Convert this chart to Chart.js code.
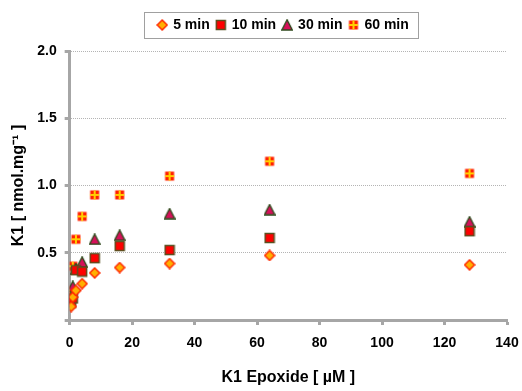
<!DOCTYPE html>
<html>
<head>
<meta charset="utf-8">
<script src="https://cdn.jsdelivr.net/npm/chart.js@4.4.1/dist/chart.umd.min.js"></script>
<style>
  html, body { margin: 0; padding: 0; background: #fff; }
  #wrap { width: 522px; height: 391px; }
</style>
</head>
<body>
<div id="wrap"><canvas id="k1Chart" width="522" height="391"></canvas></div>
<script>
// K1 epoxide concentration (µM)
const concentrations = [0.5, 1, 2, 4, 8, 16, 32, 64, 128];

// K1 formed (nmol/mg) after each incubation time
const k1At5min  = [0.10, 0.17, 0.22, 0.27, 0.35, 0.39, 0.42, 0.48, 0.41];
const k1At10min = [0.13, 0.16, 0.37, 0.36, 0.46, 0.55, 0.52, 0.61, 0.66];
const k1At30min = [0.17, 0.25, 0.38, 0.43, 0.60, 0.63, 0.79, 0.82, 0.73];
const k1At60min = [0.22, 0.40, 0.60, 0.77, 0.93, 0.93, 1.07, 1.18, 1.09];

const seriesLabels = ['5 min', '10 min', '30 min', '60 min'];
const yTicks = [0, 0.5, 1.0, 1.5, 2.0];
const xTicks = [0, 20, 40, 60, 80, 100, 120, 140];

// small canvases used as point styles
function makeMarker(kind) {
  const c = document.createElement('canvas');
  c.width = 12; c.height = 12;
  const g = c.getContext('2d');
  if (kind === 'diamond') {
    g.beginPath();
    g.moveTo(6, 1); g.lineTo(11, 6); g.lineTo(6, 11); g.lineTo(1, 6); g.closePath();
    g.fillStyle = '#ffb000';
    g.fill();
    g.lineWidth = 1.5;
    g.strokeStyle = '#ff2a00';
    g.stroke();
  } else if (kind === 'square') {
    g.fillStyle = '#ff0000';
    g.fillRect(1.5, 1.5, 9, 9);
    g.lineWidth = 1.5;
    g.strokeStyle = '#5a5020';
    g.strokeRect(1.5, 1.5, 9, 9);
  } else if (kind === 'triangle') {
    g.beginPath();
    g.moveTo(6, 0.8); g.lineTo(11.2, 11); g.lineTo(0.8, 11); g.closePath();
    g.fillStyle = '#d6105a';
    g.fill();
    g.lineWidth = 1.4;
    g.strokeStyle = '#2f4a1c';
    g.stroke();
  } else {
    // red square with a yellow cross
    g.fillStyle = '#ff2200';
    g.fillRect(1.5, 1.5, 9, 9);
    g.fillStyle = '#ffd000';
    g.fillRect(5, 1.5, 2, 9);
    g.fillRect(1.5, 5, 9, 2);
  }
  return c;
}

const markers = [makeMarker('diamond'), makeMarker('square'), makeMarker('triangle'), makeMarker('cross')];
const seriesValues = [k1At5min, k1At10min, k1At30min, k1At60min];

const datasets = seriesLabels.map((label, s) => ({
  label: label,
  data: concentrations.map((x, i) => ({ x: x, y: seriesValues[s][i] })),
  pointStyle: markers[s],
  pointRadius: 6,
  showLine: false
}));

// legend tweaks: a bit more room below it, nudged right, and a frame around it
const legendFrame = {
  id: 'legendFrame',
  beforeInit(chart) {
    const origFit = chart.legend.fit;
    chart.legend.fit = function () {
      origFit.call(this);
      this.height += 9;
    };
  },
  afterLayout(chart) {
    chart.legend.left += 22;
    chart.legend.right += 22;
  },
  afterDraw(chart) {
    const boxes = chart.legend.legendHitBoxes;
    if (!boxes || !boxes.length) return;
    const left = Math.min(...boxes.map(b => b.left));
    const right = Math.max(...boxes.map(b => b.left + b.width));
    const top = Math.min(...boxes.map(b => b.top));
    const bottom = Math.max(...boxes.map(b => b.top + b.height));
    const ctx = chart.ctx;
    ctx.save();
    ctx.strokeStyle = '#a0a0a0';
    ctx.lineWidth = 1;
    ctx.strokeRect(Math.round(left - 14) + 0.5, Math.round(top - 6) + 0.5,
                   Math.round(right - left + 23), Math.round(bottom - top + 12));
    ctx.restore();
  }
};

const axisGrey = '#a6a6a6';
const fontFamily = '"Liberation Sans", Arial, sans-serif';

new Chart(document.getElementById('k1Chart'), {
  type: 'scatter',
  data: { datasets: datasets },
  options: {
    responsive: false,
    animation: false,
    layout: { padding: { left: 4, right: 3, top: 11, bottom: 4 } },
    plugins: {
      tooltip: { enabled: false },
      legend: {
        position: 'top',
        labels: {
          usePointStyle: true,
          pointStyleWidth: 8,
          color: '#000',
          padding: 7,
          font: { family: fontFamily, size: 14, weight: 'bold' }
        }
      }
    },
    scales: {
      x: {
        type: 'linear',
        min: 0,
        max: 140,
        afterBuildTicks(axis) { axis.ticks = xTicks.map(v => ({ value: v })); },
        // leave just enough room on the right for the "140" label
        afterFit(axis) { axis.paddingRight = 15; },
        grid: {
          drawOnChartArea: false,
          drawTicks: true,
          tickLength: 5,
          tickColor: axisGrey,
          tickWidth: 3
        },
        border: { color: axisGrey, width: 3 },
        ticks: {
          color: '#000',
          padding: 10,
          font: { family: fontFamily, size: 14, weight: 'bold' }
        },
        title: {
          display: true,
          text: 'K1 Epoxide [ µM ]',
          color: '#000',
          padding: { top: 6, bottom: 0 },
          font: { family: fontFamily, size: 16, weight: 'bold' }
        }
      },
      y: {
        min: 0,
        max: 2.0,
        afterBuildTicks(axis) { axis.ticks = yTicks.map(v => ({ value: v })); },
        grid: {
          color: ctx => (ctx.tick && ctx.tick.value === 0) ? 'rgba(0,0,0,0)' : '#b4b4b4',
          lineWidth: 1,
          tickLength: 5,
          tickColor: axisGrey,
          tickWidth: 3,
          tickBorderDash: []
        },
        border: { color: axisGrey, width: 3, dash: [1, 1] },
        ticks: {
          color: '#000',
          padding: 8,
          font: { family: fontFamily, size: 14, weight: 'bold' },
          callback: v => v === 0 ? '' : v.toFixed(1)
        },
        title: {
          display: true,
          text: 'K1 [ nmol.mg⁻¹ ]',
          color: '#000',
          padding: { top: 5, bottom: 1 },
          font: { family: fontFamily, size: 16, weight: 'bold' }
        }
      }
    }
  },
  plugins: [legendFrame]
});
</script>
</body>
</html>
